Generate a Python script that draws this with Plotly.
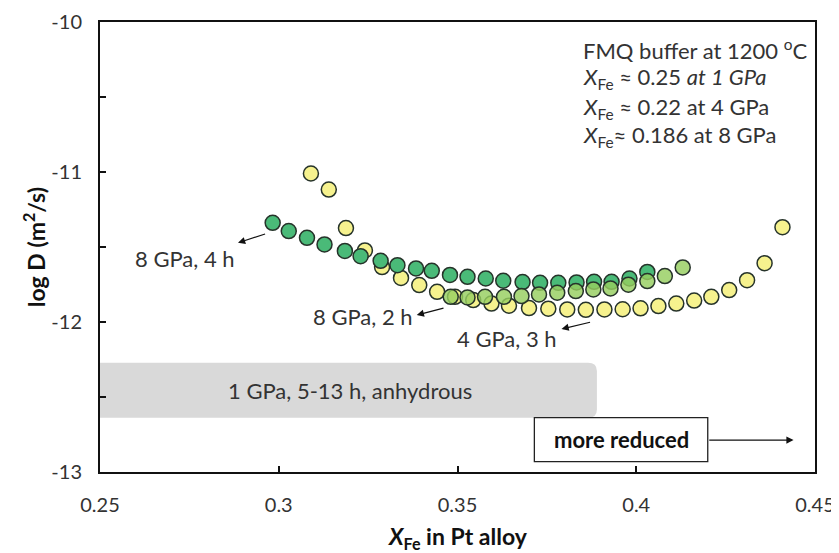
import plotly.graph_objects as go

# ---- data ----
x_8gpa_4h = [0.2983, 0.3028, 0.3079, 0.3128, 0.3185, 0.3229, 0.3285, 0.3332, 0.3384, 0.3428, 0.3479,
             0.3528, 0.3579, 0.3628, 0.3682, 0.3731, 0.3782, 0.3833, 0.3882, 0.3931, 0.3981, 0.4031]
y_8gpa_4h = [-11.339, -11.394, -11.439, -11.483, -11.526, -11.561, -11.592, -11.621, -11.643, -11.659, -11.686,
             -11.699, -11.710, -11.725, -11.734, -11.739, -11.739, -11.736, -11.732, -11.732, -11.710, -11.666]

x_8gpa_2h = [0.3481, 0.3528, 0.3577, 0.3630, 0.3679, 0.3728, 0.3779, 0.3831, 0.3880, 0.3928, 0.3978,
             0.4031, 0.4080, 0.4130]
y_8gpa_2h = [-11.832, -11.836, -11.832, -11.832, -11.827, -11.816, -11.805, -11.794, -11.783, -11.776, -11.751,
             -11.727, -11.694, -11.636]

x_4gpa_3h = [0.3090, 0.3140, 0.3188, 0.3241, 0.3289, 0.3342, 0.3393, 0.3443, 0.3493, 0.3544, 0.3595,
             0.3644, 0.3700, 0.3754, 0.3807, 0.3859, 0.3911, 0.3962, 0.4012, 0.4062, 0.4112, 0.4162,
             0.4210, 0.4260, 0.4310, 0.4359, 0.4409]
y_4gpa_3h = [-11.010, -11.117, -11.374, -11.523, -11.634, -11.706, -11.754, -11.799, -11.832, -11.854, -11.877,
             -11.891, -11.907, -11.911, -11.916, -11.919, -11.916, -11.915, -11.909, -11.894, -11.877, -11.857,
             -11.832, -11.787, -11.721, -11.608, -11.368]

x_ticks = [0.25, 0.3, 0.35, 0.4, 0.45]
x_tick_labels = ["0.25", "0.3", "0.35", "0.4", "0.45"]
y_ticks = [-13, -12, -11, -10]
y_tick_labels = ["-13", "-12", "-11", "-10"]

info_lines = [
    "FMQ buffer at 1200 <sup>o</sup>C",
    "<i>X</i><sub>Fe</sub> ≈ 0.25 <i>at 1 GPa</i>",
    "<i>X</i><sub>Fe</sub> ≈ 0.22 at 4 GPa",
    "<i>X</i><sub>Fe</sub>≈ 0.186 at 8 GPa",
]

FONT = "Lato, 'Open Sans', sans-serif"
EDGE = "#26332a"
TXT = "#333333"
FS = 22

fig = go.Figure()

fig.add_trace(go.Scatter(
    x=x_4gpa_3h, y=y_4gpa_3h, mode="markers", name="4 GPa, 3 h",
    marker=dict(size=15, color="#f6f28e", line=dict(color=EDGE, width=1.5))))
fig.add_trace(go.Scatter(
    x=x_8gpa_4h, y=y_8gpa_4h, mode="markers", name="8 GPa, 4 h",
    marker=dict(size=15, color="#4aba78", line=dict(color=EDGE, width=1.5))))
fig.add_trace(go.Scatter(
    x=x_8gpa_2h, y=y_8gpa_2h, mode="markers", name="8 GPa, 2 h",
    marker=dict(size=15, color="rgba(150,206,95,0.82)", line=dict(color=EDGE, width=1.5))))

# gray band (1 GPa)
bx0, bx1, by0, by1 = 0.25, 0.389, -12.638, -12.272
rx, ry = 0.0025, 0.055
band_path = (f"M {bx0},{by0} L {bx1 - rx},{by0} Q {bx1},{by0} {bx1},{by0 + ry} "
             f"L {bx1},{by1 - ry} Q {bx1},{by1} {bx1 - rx},{by1} L {bx0},{by1} Z")
fig.add_shape(type="path", path=band_path, xref="x", yref="y",
              fillcolor="#d9d9d9", line=dict(width=0), layer="below")

# "more reduced" box
mx0, mx1, my0, my1 = 0.3715, 0.4200, -12.931, -12.638
fig.add_shape(type="rect", x0=mx0, x1=mx1, y0=my0, y1=my1, xref="x", yref="y",
              fillcolor="white", line=dict(color="#222", width=1.3))

annotations = []
annotations.append(dict(x=(bx0 + bx1) / 2 + 0.0005, y=(by0 + by1) / 2, xref="x", yref="y",
                        text="1 GPa, 5-13 h, anhydrous", showarrow=False,
                        font=dict(family=FONT, size=FS, color=TXT)))
annotations.append(dict(x=(mx0 + mx1) / 2, y=(my0 + my1) / 2, xref="x", yref="y",
                        text="<b>more reduced</b>", showarrow=False,
                        font=dict(family=FONT, size=22, color="#111")))
# arrow for more reduced
annotations.append(dict(x=0.4440, y=-12.787, ax=mx1, ay=-12.787, xref="x", yref="y",
                        axref="x", ayref="y", text="", showarrow=True, arrowhead=2,
                        arrowsize=1.2, arrowwidth=1.2, arrowcolor="#111"))

# series labels
labels = [
    ("8 GPa, 4 h", 0.2883, -11.574, 0.2886, -11.472, 0.2966, -11.410),
    ("8 GPa, 2 h", 0.3380, -11.960, 0.3386, -11.954, 0.3465, -11.905),
    ("4 GPa, 3 h", 0.3785, -12.107, 0.3791, -12.047, 0.3875, -11.999),
]
for txt, tx, ty, hx, hy, sx, sy in labels:
    annotations.append(dict(x=tx, y=ty, xref="x", yref="y", text=txt, showarrow=False,
                            xanchor="right", font=dict(family=FONT, size=FS, color=TXT)))
    annotations.append(dict(x=hx, y=hy, ax=sx, ay=sy, xref="x", yref="y", axref="x", ayref="y",
                            text="", showarrow=True, arrowhead=2, arrowsize=1.2,
                            arrowwidth=1.2, arrowcolor="#111"))

info_y = [-10.18, -10.372, -10.57, -10.76]
for line, yy in zip(info_lines, info_y):
    annotations.append(dict(x=0.3845, y=yy, xref="x", yref="y", text=line, showarrow=False,
                            xanchor="left", font=dict(family=FONT, size=FS, color=TXT)))

# axis titles as paper annotations
annotations.append(dict(x=0.5, y=-0.145, xref="paper", yref="paper", yanchor="middle",
                        text="<b><i>X</i><sub>Fe</sub> in Pt alloy</b>", showarrow=False,
                        font=dict(family=FONT, size=23, color="#111")))
annotations.append(dict(x=-0.092, y=0.5, xref="paper", yref="paper", xanchor="center",
                        yanchor="middle", textangle=-90,
                        text="<b>log D (m<sup>2</sup>/s)</b>", showarrow=False,
                        font=dict(family=FONT, size=23, color="#111")))

# page body has an 8px margin, so the figure is sized/margined accordingly
fig.update_layout(
    width=831, height=545,
    margin=dict(l=92, r=24, t=14, b=81, autoexpand=False),
    paper_bgcolor="white", plot_bgcolor="white",
    showlegend=False,
    annotations=annotations,
    font=dict(family=FONT, size=FS, color=TXT),
    xaxis=dict(range=[0.25, 0.45], tickvals=x_ticks, ticktext=x_tick_labels, automargin=False,
               showgrid=False, zeroline=False, showline=True, linecolor="#111", linewidth=2,
               mirror=True, ticks="inside", ticklen=6, tickwidth=1.5, tickcolor="#111",
               ticklabelstandoff=14,
               tickfont=dict(family=FONT, size=20, color=TXT)),
    yaxis=dict(range=[-13, -10], tickvals=y_ticks, ticktext=y_tick_labels, automargin=False,
               showgrid=False, zeroline=False, showline=True, linecolor="#111", linewidth=2,
               mirror=True, ticks="inside", ticklen=6, tickwidth=1.5, tickcolor="#111",
               ticklabelstandoff=12,
               minor=dict(dtick=0.5, ticks="inside", ticklen=6, tickwidth=1.5, tickcolor="#111"),
               tickfont=dict(family=FONT, size=20, color=TXT)),
)

fig.write_html("out.html")
